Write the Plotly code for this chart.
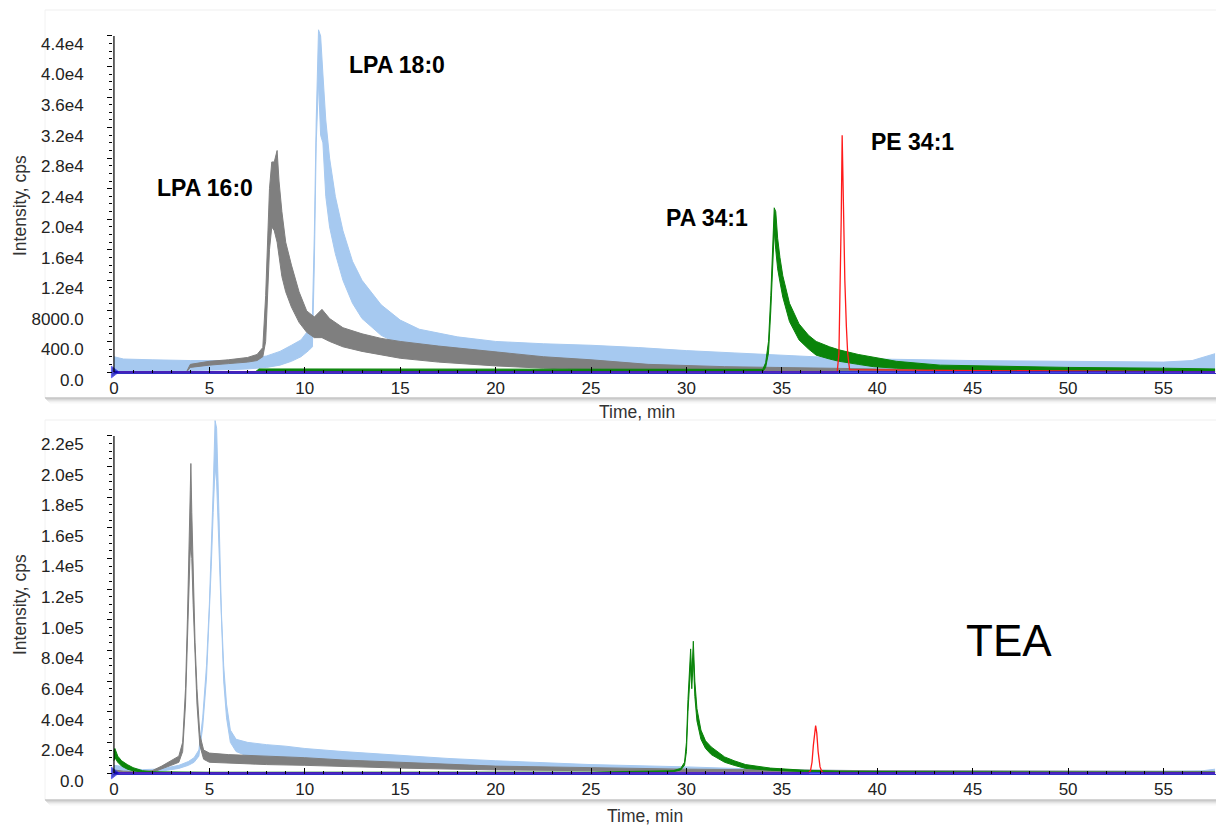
import plotly.graph_objects as go

W, H = 1216, 825

# ---------------- data ----------------
# Top panel
top_lpa18_t = [0, 0.5, 2, 4, 6, 7, 8, 8.7, 9.3, 9.8, 10.2, 10.4, 10.5, 10.6, 10.72, 10.83, 10.95, 11.1, 11.3, 11.6,
               12.0, 12.5, 13.0, 14.0, 15.0, 16.0, 18, 20, 22.5, 25, 27.5, 30, 32.5, 35, 37.5, 40, 45, 50, 55, 56.5, 57.7]
top_lpa18_hi = [2000, 1700, 1600, 1500, 1500, 1700, 2100, 2700, 3500, 4200, 5500, 7500, 18000, 33000, 44800, 44000,
                39000, 33000, 28000, 23000, 18500, 14500, 12000, 8800, 6800, 5600, 4600, 4000, 3700, 3500, 3200, 2800,
                2500, 2200, 1900, 1700, 1500, 1400, 1300, 1500, 2400]
top_lpa18_lo = [200, 200, 200, 200, 300, 400, 600, 900, 1400, 2000, 2800, 3300, 14000, 30000, 38000, 31000, 30000,
                23000, 19000, 15500, 12000, 9000, 7000, 4800, 3600, 2800, 1800, 1200, 800, 600, 400, 300, 200, 200,
                200, 200, 150, 150, 150, 200, 400]

top_lpa16_t = [0, 3.8, 4.0, 5, 6, 7, 7.5, 7.8, 7.95, 8.05, 8.15, 8.27, 8.4, 8.55, 8.65, 8.8, 9.0, 9.3, 9.7, 10.1,
               10.5, 10.9, 11.3, 12, 13, 14, 15, 17, 20, 22.5, 25, 28, 32, 40, 50, 57.7]
top_lpa16_hi = [0, 0, 1000, 1400, 1600, 1900, 2300, 3200, 10000, 17000, 24000, 27500, 27500, 29000, 25000, 21000,
                17000, 14000, 10500, 8000, 7200, 8200, 7000, 5800, 5000, 4400, 4000, 3400, 2600, 2000, 1600, 1000,
                700, 400, 300, 300]
top_lpa16_lo = [0, 0, 600, 900, 1100, 1300, 1500, 2000, 4000, 10000, 16000, 19000, 18500, 17000, 15000, 12500,
                10500, 8500, 6500, 5200, 4500, 4500, 4000, 3300, 2700, 2200, 1800, 1300, 800, 500, 300, 100, 50, 0,
                0, 0]

top_pa_t = [0, 7.4, 7.6, 20, 30, 34.0, 34.15, 34.3, 34.42, 34.52, 34.6, 34.68, 34.78, 34.9, 35.05, 35.4, 35.9,
            36.4, 36.8, 37.5, 38.0, 39.0, 39.8, 41.0, 43.3, 45, 50, 55, 57.7]
top_pa_hi = [0, 0, 400, 400, 350, 350, 1200, 4000, 10000, 17500, 21500, 21000, 17500, 15000, 12600, 9000, 6300,
             4800, 4000, 3300, 2900, 2300, 1900, 1400, 900, 800, 600, 500, 400]
top_pa_lo = [0, 0, 50, 50, 50, 50, 600, 2500, 8000, 15000, 18500, 16000, 13500, 11800, 9800, 6600, 4200, 3000,
             2200, 1700, 1400, 1000, 700, 500, 250, 200, 150, 100, 100]

top_pe_t = [0, 37.9, 37.99, 38.05, 38.11, 38.16, 38.22, 38.3, 38.38, 38.45, 38.55, 57.7]
top_pe_i = [0, 0, 2400, 9000, 20000, 31000, 21000, 12000, 6000, 2400, 300, 0]

# Bottom panel (TEA)
bot_lpa18_t = [0, 0.3, 0.8, 1.5, 2.2, 2.8, 3.4, 3.9, 4.2, 4.45, 4.65, 4.85, 5.0, 5.1, 5.2, 5.3, 5.38, 5.5, 5.63,
               5.75, 5.9, 6.1, 6.4, 7, 8, 9, 10, 12, 15, 17.5, 20, 22.5, 25, 30, 35, 40, 45, 50, 55, 57, 57.7]
bot_lpa18_hi = [5000, 4500, 3000, 2200, 2500, 3500, 5000, 7500, 10000, 15000, 36000, 70000, 110000, 145000,
                185000, 230000, 225000, 170000, 105000, 70000, 45000, 28000, 22000, 20000, 18500, 17500, 16000,
                14000, 11500, 9500, 8000, 6500, 5500, 4000, 2000, 1500, 1200, 1200, 1200, 1400, 2500]
bot_lpa18_lo = [2000, 1500, 1000, 800, 1000, 1800, 3000, 5000, 7000, 11000, 30000, 62000, 100000, 135000,
                170000, 200000, 190000, 150000, 95000, 60000, 36000, 20000, 14000, 11000, 9500, 8500, 7500, 6500,
                5000, 4000, 3200, 2500, 2000, 1200, 500, 300, 200, 200, 200, 300, 500]

bot_lpa16_t = [0, 0.5, 1.2, 2.0, 2.5, 3.0, 3.4, 3.6, 3.75, 3.85, 3.93, 3.98, 4.03, 4.08, 4.15, 4.25, 4.35, 4.5,
               4.7, 5.0, 6, 8, 10, 12, 15, 20, 25, 30, 40, 57.7]
bot_lpa16_hi = [2000, 1200, 900, 1500, 4500, 8000, 11000, 20000, 55000, 100000, 140000, 175000, 202000, 170000,
                125000, 85000, 55000, 25000, 15000, 13000, 12000, 11000, 10000, 8500, 7000, 4500, 3500, 2500, 1500,
                1000]
bot_lpa16_lo = [500, 300, 200, 400, 2500, 5000, 7000, 14000, 45000, 90000, 125000, 140000, 150000, 140000,
                110000, 72000, 45000, 18000, 9000, 7000, 6500, 5500, 5000, 4200, 3200, 2000, 1500, 1000, 500, 300]

bot_pa_t = [0, 0.05, 0.2, 0.4, 0.7, 1.0, 1.5, 2.0, 5, 15, 25, 29.3, 29.7, 29.9, 30.0, 30.08, 30.16, 30.22, 30.28,
            30.36, 30.44, 30.55, 30.76, 31.0, 31.3, 31.7, 32.0, 32.5, 33.1, 34.4, 36.2, 38, 42, 50, 57.7]
bot_pa_hi = [14000, 16000, 11000, 8000, 5500, 3500, 1500, 800, 500, 500, 600, 1500, 3000, 7000, 20000, 48000,
             70000, 81000, 63000, 86000, 60000, 42000, 28000, 21000, 17000, 13000, 10500, 8000, 5500, 3200, 1800,
             1200, 800, 600, 500]
bot_pa_lo = [8000, 10000, 7000, 4500, 2500, 1500, 500, 200, 100, 100, 200, 800, 2000, 5000, 14000, 40000, 62000,
             70000, 55000, 75000, 50000, 34000, 22000, 16000, 12000, 9000, 7000, 5000, 3000, 1800, 900, 500, 300,
             200, 100]

bot_pe_t = [0, 36.4, 36.5, 36.58, 36.65, 36.72, 36.77, 36.83, 36.9, 37.0, 37.1, 37.2, 57.7]
bot_pe_i = [0, 0, 1500, 7000, 18000, 28000, 31000, 26000, 14000, 4000, 800, 0, 0]

baseline_t = [0, 57.7]
baseline_i = [0, 0]

# axis ticks
x_ticks = [0, 5, 10, 15, 20, 25, 30, 35, 40, 45, 50, 55]
x_ticktext = ["0", "5", "10", "15", "20", "25", "30", "35", "40", "45", "50", "55"]
top_yticks = [0, 4000, 8000, 12000, 16000, 20000, 24000, 28000, 32000, 36000, 40000, 44000]
top_yticktext = ["0.0", "400.0", "8000.0", "1.2e4", "1.6e4", "2.0e4", "2.4e4", "2.8e4", "3.2e4", "3.6e4",
                 "4.0e4", "4.4e4"]
bot_yticks = [0, 20000, 40000, 60000, 80000, 100000, 120000, 140000, 160000, 180000, 200000, 220000]
bot_yticktext = ["0.0", "2.0e4", "4.0e4", "6.0e4", "8.0e4", "1.0e5", "1.2e5", "1.4e5", "1.6e5", "1.8e5",
                 "2.0e5", "2.2e5"]

# ---------------- style ----------------
C_LBLUE = "#a6c9f0"
C_GRAY = "#7f7f7f"
C_GREEN = "#0a840a"
C_RED = "#ff1a1a"
C_BLUE = "#1a1aee"
FONT = "Liberation Sans, Arial, sans-serif"


def px_x(p):
    return p / W


def px_y(p):
    return 1 - p / H


fig = go.Figure()


def add_band(t, hi, lo, color, xa, ya):
    fig.add_trace(go.Scatter(x=t, y=hi, mode="lines", line=dict(color=color, width=1),
                             xaxis=xa, yaxis=ya, showlegend=False, hoverinfo="skip"))
    fig.add_trace(go.Scatter(x=t, y=lo, mode="lines", line=dict(color=color, width=1),
                             fill="tonexty", fillcolor=color,
                             xaxis=xa, yaxis=ya, showlegend=False, hoverinfo="skip"))


def add_line(t, y, color, xa, ya, width=1.3):
    fig.add_trace(go.Scatter(x=t, y=y, mode="lines", line=dict(color=color, width=width),
                             xaxis=xa, yaxis=ya, showlegend=False, hoverinfo="skip"))


def add_baseline(xa, ya):
    fig.add_trace(go.Scatter(x=baseline_t, y=baseline_i, mode="lines+markers",
                             line=dict(color=C_BLUE, width=1.4),
                             marker=dict(symbol="triangle-right", size=[10, 0], color="#0000aa"),
                             cliponaxis=False, xaxis=xa, yaxis=ya, showlegend=False, hoverinfo="skip"))


# top panel
add_band(top_lpa18_t, top_lpa18_hi, top_lpa18_lo, C_LBLUE, "x", "y")
add_band(top_lpa16_t, top_lpa16_hi, top_lpa16_lo, C_GRAY, "x", "y")
add_band(top_pa_t, top_pa_hi, top_pa_lo, C_GREEN, "x", "y")
add_line(top_pe_t, top_pe_i, C_RED, "x", "y")
add_baseline("x", "y")

# bottom panel
add_band(bot_lpa18_t, bot_lpa18_hi, bot_lpa18_lo, C_LBLUE, "x2", "y2")
add_band(bot_lpa16_t, bot_lpa16_hi, bot_lpa16_lo, C_GRAY, "x2", "y2")
add_band(bot_pa_t, bot_pa_hi, bot_pa_lo, C_GREEN, "x2", "y2")
add_line(bot_pe_t, bot_pe_i, C_RED, "x2", "y2")
add_baseline("x2", "y2")

tickfont = dict(family=FONT, size=17, color="#222222")
x_dom = [px_x(113), 1.0]
x_range = [-0.05, 57.75]

xaxis_common = dict(
    domain=x_dom, range=x_range, tickmode="array", tickvals=x_ticks, ticktext=x_ticktext,
    ticks="inside", ticklen=6, tickcolor="#000", tickwidth=1, tickfont=tickfont, automargin=False,
    showline=True, linecolor="#3030c0", linewidth=1, showgrid=False, zeroline=False,
    minor=dict(tickvals=[v for v in range(0, 58)], ticks="inside", ticklen=3, tickcolor="#000"),
)

yaxis_common = dict(
    tickmode="array", ticks="outside", ticklen=5, tickcolor="#000", tickwidth=1, tickfont=tickfont,
    showline=False, showgrid=False, zeroline=False, ticklabelstandoff=20, ticklabelshift=8,
    automargin=False,
)

fig.update_layout(
    template="none",
    width=W, height=H, margin=dict(l=0, r=0, t=0, b=0, autoexpand=False),
    paper_bgcolor="white", plot_bgcolor="white", showlegend=False,
    xaxis=dict(anchor="y", **xaxis_common),
    xaxis2=dict(anchor="y2", **xaxis_common),
    yaxis=dict(anchor="x", domain=[px_y(373), px_y(26)], range=[-130, 45300],
               tickvals=top_yticks, ticktext=top_yticktext,
               minor=dict(tickvals=[v for v in range(0, 44001, 1000)], ticks="outside", ticklen=3,
                          tickcolor="#000"),
               **yaxis_common),
    yaxis2=dict(anchor="x2", domain=[px_y(774), px_y(416)], range=[-650, 233000],
                tickvals=bot_yticks, ticktext=bot_yticktext,
                minor=dict(tickvals=[v for v in range(0, 220001, 5000)], ticks="outside", ticklen=3,
                           tickcolor="#000"),
                **yaxis_common),
)

# y-axis lines ending at the top tick
fig.add_shape(type="line", xref="x", yref="y", x0=0, x1=0, y0=0, y1=44000,
              line=dict(color="#000", width=1.2), layer="above")
fig.add_shape(type="line", xref="x2", yref="y2", x0=0, x1=0, y0=0, y1=220000,
              line=dict(color="#000", width=1.2), layer="above")

# panel frames and drop shadows
for top_y, bot_y in [(10, 398), (420, 800)]:
    fig.add_shape(type="line", xref="paper", yref="paper", x0=px_x(45), x1=1, y0=px_y(top_y), y1=px_y(top_y),
                  line=dict(color="#efefef", width=1), layer="below")
    fig.add_shape(type="line", xref="paper", yref="paper", x0=px_x(45), x1=px_x(45), y0=px_y(top_y),
                  y1=px_y(bot_y), line=dict(color="#f2f2f2", width=1), layer="below")
    for k, col in enumerate(["#a9a9a9", "#bdbdbd", "#d0d0d0", "#e1e1e1", "#eeeeee", "#f7f7f7"]):
        fig.add_shape(type="line", xref="paper", yref="paper", x0=px_x(45 + k), x1=1,
                      y0=px_y(bot_y + k), y1=px_y(bot_y + k), line=dict(color=col, width=1.2), layer="below")

titlefont = dict(family=FONT, size=17.5, color="#333333")
annotations = [
    dict(text="Time, min", x=px_x(637), y=px_y(412), font=titlefont),
    dict(text="Time, min", x=px_x(645), y=px_y(816), font=titlefont),
    dict(text="Intensity, cps", x=px_x(20), y=px_y(206), font=titlefont, textangle=-90),
    dict(text="Intensity, cps", x=px_x(20), y=px_y(605), font=titlefont, textangle=-90),
]
labelfont = dict(family=FONT, size=23, color="#000000")
for txt, cx, cy in [("LPA 16:0", 205, 188), ("LPA 18:0", 397, 65), ("PA 34:1", 707, 218), ("PE 34:1", 912, 142)]:
    annotations.append(dict(text="<b>" + txt + "</b>", x=px_x(cx), y=px_y(cy), font=labelfont))
annotations.append(dict(text="TEA", x=px_x(1009), y=px_y(640), font=dict(family=FONT, size=44, color="#000")))

for a in annotations:
    a.update(xref="paper", yref="paper", showarrow=False, xanchor="center", yanchor="middle")
fig.update_layout(annotations=annotations)

fig.write_html("out.html")
